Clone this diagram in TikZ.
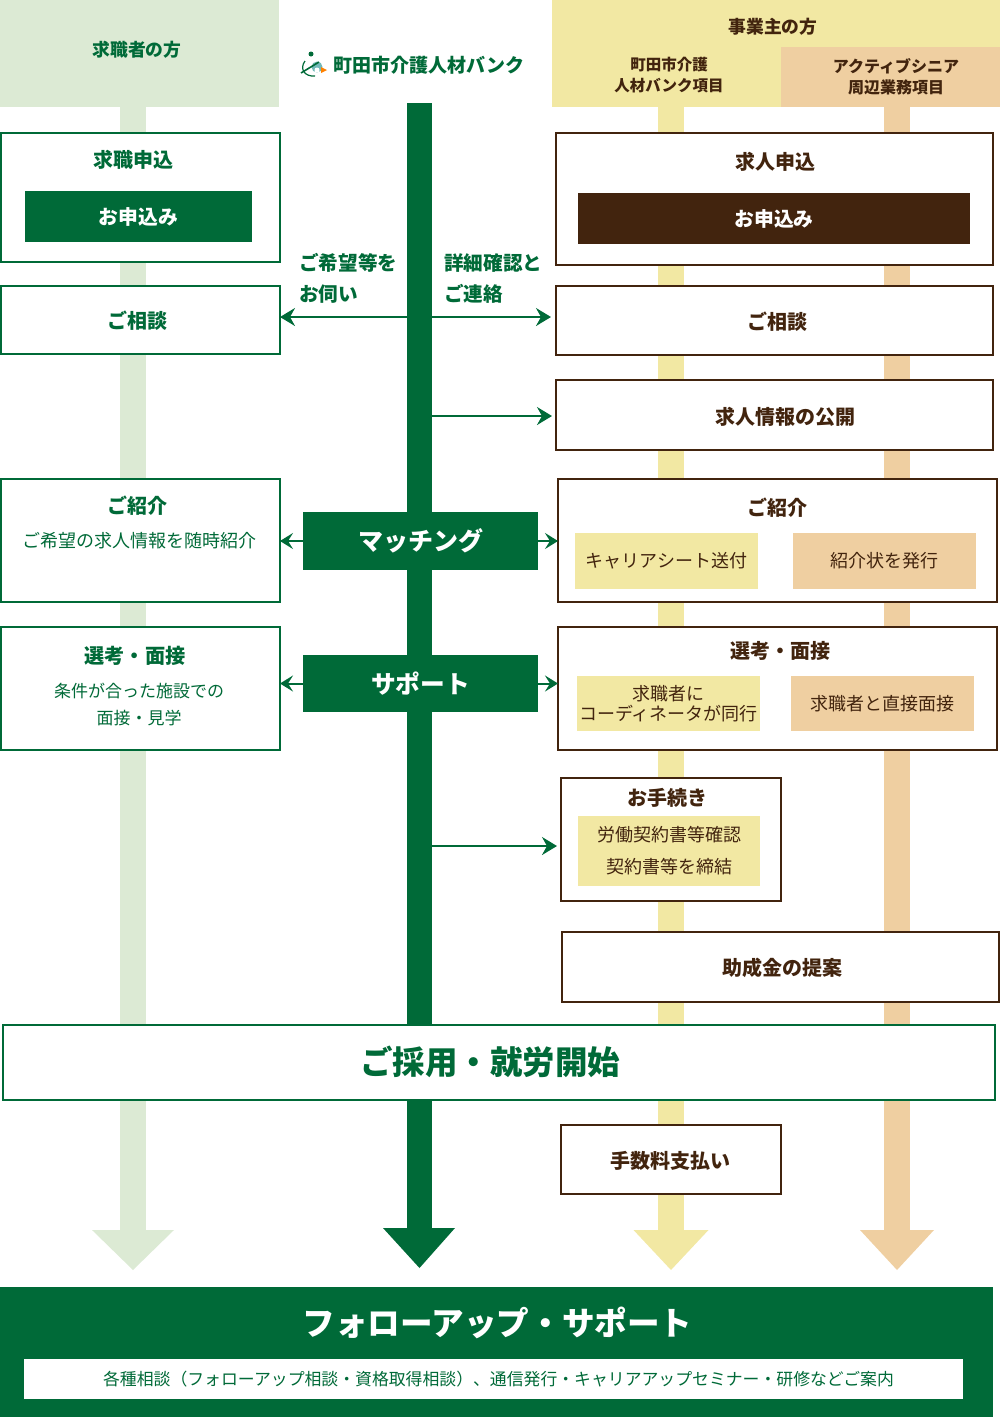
\documentclass[tikz,border=0pt]{standalone}
\usepackage{fontspec}
\setmainfont{Noto Sans CJK JP}
\usepackage{tikz}
\usetikzlibrary{arrows.meta,positioning}

\definecolor{bankgreen}{HTML}{006A38}
\definecolor{palegreen}{HTML}{DCEAD4}
\definecolor{paleyellow}{HTML}{F2E8A3}
\definecolor{palepeach}{HTML}{EFCFA1}
\definecolor{darkbrown}{HTML}{42240E}

\begin{document}
\begin{tikzpicture}[x=1pt,y=-1pt,>=Stealth]
		\tikzstyle{panel}=[anchor=north west, inner sep=0pt, outer sep=0pt]
		\tikzstyle{green box}=[panel, draw=bankgreen, line width=2pt, fill=white]
		\tikzstyle{brown box}=[panel, draw=darkbrown, line width=2pt, fill=white]
		\tikzstyle{yellow tag}=[panel, fill=paleyellow, text=darkbrown, font=\fontsize{18}{20}\selectfont, align=center]
		\tikzstyle{peach tag}=[panel, fill=palepeach, text=darkbrown, font=\fontsize{18}{20}\selectfont, align=center]
		\tikzstyle{green title}=[text=bankgreen, font=\bfseries\fontsize{20}{22}\selectfont]
		\tikzstyle{brown title}=[text=darkbrown, font=\bfseries\fontsize{20}{22}\selectfont]
		\tikzstyle{green text}=[text=bankgreen, font=\fontsize{17}{27}\selectfont, align=center]
		\tikzstyle{pointer}=[draw=bankgreen, line width=2pt, -{Stealth[length=15pt,width=18pt,inset=5pt]}]
		\tikzstyle{small pointer}=[draw=bankgreen, line width=2pt, -{Stealth[length=13pt,width=16pt,inset=5pt]}]

		\useasboundingbox (0,0) rectangle (1000,1417);

		% headers
		\node [panel, fill=palegreen, minimum width=279pt, minimum height=107pt] (seekers) at (0,0) {};
		\node [green title, font=\bfseries\fontsize{17.8}{20}\selectfont] (seekers label) at (137,50) {求職者の方};
		\node [panel, fill=paleyellow, minimum width=448pt, minimum height=107pt] (employers) at (552,0) {};
		\node [brown title, font=\bfseries\fontsize{17.8}{20}\selectfont] (employers label) at (773,27) {事業主の方};
		\node [panel, fill=palepeach, minimum width=219pt, minimum height=60pt] (senior) at (781,47) {};
		\node [brown title, font=\bfseries\fontsize{15.5}{21}\selectfont, align=center] (bank items) at (669,75) {町田市介護\\人材バンク項目};
		\node [brown title, font=\bfseries\fontsize{16}{21}\selectfont, align=center] (senior items) at (896,77) {アクティブシニア\\周辺業務項目};
		\node [green title, font=\bfseries\fontsize{19}{22}\selectfont, anchor=west, inner sep=0pt] (bank) at (333,65) {町田市介護人材バンク};
		% logo
		\fill [bankgreen] (311,54) circle (2.5);
		\draw [bankgreen, line width=1.2pt] (305,61) .. controls (299,69) and (305,77) .. (315,76);
		\fill [teal!55] (317,67) circle (5.5);
		\fill [white] (317,70) circle (2.5);
		\draw [bankgreen, line width=1.6pt] (301,73) -- (319,62);
		\fill [orange] (321,67) -- (327,70) -- (321,73) -- cycle;

		% lanes
		\foreach \cx/\col/\hw in {133/palegreen/41, 671/paleyellow/37.5, 897/palepeach/37} {
			\fill [\col] (\cx-13,107) rectangle (\cx+13,1231);
			\fill [\col] (\cx-\hw,1230) -- (\cx+\hw,1230) -- (\cx,1270) -- cycle;
		}
		\fill [bankgreen] (407,103) rectangle (432,1229);
		\fill [bankgreen] (383,1228) -- (455,1228) -- (419.5,1268) -- cycle;

		% job seekers
		\node [green box, minimum width=279pt, minimum height=129pt] (apply) at (1,133) {};
		\node [green title] (apply label) at (133,160) {求職申込};
		\node [panel, fill=bankgreen, text=white, font=\bfseries\fontsize{19.8}{22}\selectfont, minimum width=227pt, minimum height=51pt] (apply button) at (25,191) {お申込み};
		\node [green box, minimum width=279pt, minimum height=68pt] (consult) at (1,286) {};
		\node [green title] (consult label) at (137,321) {ご相談};
		\node [green box, minimum width=279pt, minimum height=123pt] (intro) at (1,479) {};
		\node [green title] (intro label) at (137,506) {ご紹介};
		\node [green text, font=\fontsize{18}{22}\selectfont] (intro text) at (139,541) {ご希望の求人情報を随時紹介};
		\node [green box, minimum width=279pt, minimum height=123pt] (select) at (1,627) {};
		\node [green title, font=\bfseries\fontsize{20.2}{22}\selectfont] (select label) at (135,656) {選考・面接};
		\node [green text] (select text) at (139,704.5) {条件が合った施設での\\面接・見学};

		% employers
		\node [brown box, minimum width=437pt, minimum height=132pt] (offer) at (556,133) {};
		\node [brown title] (offer label) at (775,162) {求人申込};
		\node [panel, fill=darkbrown, text=white, font=\bfseries\fontsize{19.8}{22}\selectfont, minimum width=392pt, minimum height=51pt] (offer button) at (578,193) {お申込み};
		\node [brown box, minimum width=437pt, minimum height=69pt] (consult r) at (556,286) {};
		\node [brown title] (consult r label) at (777,322) {ご相談};
		\node [brown box, minimum width=437pt, minimum height=70pt] (publish) at (556,380) {};
		\node [brown title] (publish label) at (785,417) {求人情報の公開};
		\node [brown box, minimum width=439pt, minimum height=123pt] (intro r) at (558,479) {};
		\node [brown title] (intro r label) at (777,508) {ご紹介};
		\node [yellow tag, minimum width=183pt, minimum height=56pt] (career sheet) at (575,533) {キャリアシート送付};
		\node [peach tag, minimum width=183pt, minimum height=56pt] (letter) at (793,533) {紹介状を発行};
		\node [brown box, minimum width=439pt, minimum height=123pt] (select r) at (558,627) {};
		\node [brown title] (select r label) at (780,651) {選考・面接};
		\node [yellow tag, minimum width=183pt, minimum height=55pt] (escort) at (577,676) {求職者に\\コーディネータが同行};
		\node [peach tag, minimum width=183pt, minimum height=55pt] (direct) at (791,676) {求職者と直接面接};
		\node [brown box, minimum width=220pt, minimum height=123pt] (procedure) at (561,778) {};
		\node [brown title] (procedure label) at (667,798) {お手続き};
		\node [yellow tag, font=\fontsize{18}{32}\selectfont, minimum width=182pt, minimum height=70pt] (contract) at (578,816) {労働契約書等確認\\契約書等を締結};
		\node [brown box, minimum width=437pt, minimum height=70pt] (subsidy) at (562,932) {};
		\node [brown title] (subsidy label) at (782,968) {助成金の提案};

		% hiring and after
		\node [green box, minimum width=992pt, minimum height=75pt] (hire) at (3,1025) {};
		\node [green title, font=\bfseries\fontsize{32.5}{36}\selectfont] (hire label) at (490,1062) {ご採用・就労開始};
		\node [brown box, minimum width=220pt, minimum height=69pt] (fee) at (561,1125) {};
		\node [brown title] (fee label) at (670,1161) {手数料支払い};
		\node [panel, fill=bankgreen, minimum width=993pt, minimum height=130pt] (follow) at (0,1287) {};
		\node [text=white, font=\bfseries\fontsize{32.6}{36}\selectfont] (follow label) at (497.5,1323) {フォローアップ・サポート};
		\node [panel, fill=white, minimum width=939pt, minimum height=40pt] (follow info) at (24,1359) {};
		\node [green text, font=\fontsize{16.85}{20}\selectfont] (follow text) at (498.5,1379) {各種相談（フォローアップ相談・資格取得相談）、通信発行・キャリアアップセミナー・研修などご案内};

		% matching and support
		\node [panel, fill=bankgreen, text=white, font=\bfseries\fontsize{25}{28}\selectfont, minimum width=235pt, minimum height=58pt] (matching) at (303,512) {マッチング};
		\node [panel, fill=bankgreen, text=white, font=\bfseries\fontsize{24.7}{28}\selectfont, minimum width=235pt, minimum height=57pt] (support) at (303,655) {サポート};
		\draw [small pointer] (matching.west) -- (matching.west -| intro.east);
		\draw [small pointer] (matching.east) -- (matching.east -| intro r.west);
		\draw [small pointer] (support.west) -- (support.west -| select.east);
		\draw [small pointer] (support.east) -- (support.east -| select r.west);

		% pointers from the bank
		\coordinate (ask) at (408,317);
		\coordinate (reply) at (432,317);
		\coordinate (announce) at (432,416);
		\coordinate (contract start) at (432,846);
		\draw [pointer] (ask) -- (ask -| consult.east);
		\draw [pointer, shorten >=5pt] (reply) -- (reply -| consult r.west);
		\draw [pointer, shorten >=4pt] (announce) -- (announce -| publish.west);
		\draw [pointer, shorten >=4pt] (contract start) -- (contract start -| procedure.west);
		\node [green title, font=\bfseries\fontsize{19.6}{31}\selectfont, align=left, anchor=west, inner sep=0pt] (ask label) at (299,278.5) {ご希望等を\\お伺い};
		\node [green title, font=\bfseries\fontsize{19.6}{31}\selectfont, align=left, anchor=west, inner sep=0pt] (reply label) at (444,278.5) {詳細確認と\\ご連絡};
	\end{tikzpicture}
\end{document}
